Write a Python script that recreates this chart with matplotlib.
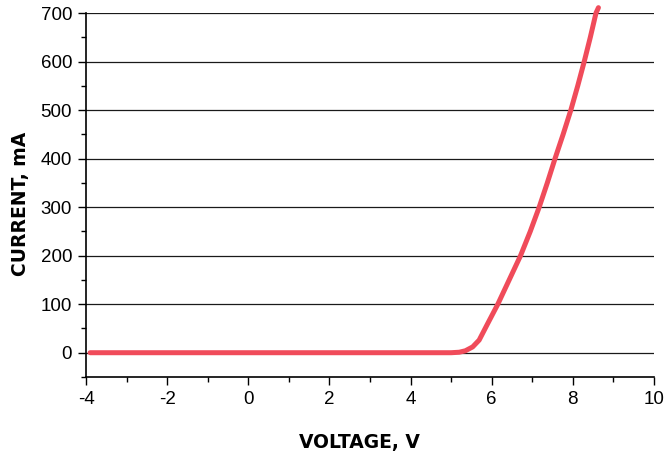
import matplotlib.pyplot as plt
from matplotlib.ticker import MultipleLocator

plt.rcParams['font.family'] = ['Liberation Sans', 'DejaVu Sans']
plt.rcParams['axes.unicode_minus'] = False

# Datos (voltaje en V, corriente en mA)
voltage = [-3.9, -2.0, 0.0, 2.0, 4.0, 5.0, 5.2, 5.35, 5.53, 5.69, 5.9, 6.15,
           6.43, 6.71, 6.95, 7.17, 7.37, 7.56, 7.76, 7.95, 8.12, 8.28, 8.43,
           8.57, 8.63]
current = [0, 0, 0, 0, 0, 0, 1, 4, 12, 26, 60, 100,
           150, 200, 250, 300, 350, 400, 450, 500, 550, 600, 650,
           700, 711]

x_ticks = [-4, -2, 0, 2, 4, 6, 8, 10]
y_ticks = [0, 100, 200, 300, 400, 500, 600, 700]

fig = plt.figure(figsize=(6.69, 4.58), dpi=100)
ax = fig.add_axes([0.1286, 0.1769, 0.849, 0.7947])

# Líneas horizontales de la grilla
for y in y_ticks:
    ax.axhline(y, color='#1a1a1a', linewidth=0.9, zorder=1)

ax.plot(voltage, current, color='#F04B5A', linewidth=3.6,
        solid_capstyle='round', solid_joinstyle='round', clip_on=False, zorder=3)

ax.set_xlim(-4, 10)
ax.set_ylim(-50, 700)
ax.set_xticks(x_ticks)
ax.set_yticks(y_ticks)
ax.xaxis.set_minor_locator(MultipleLocator(1))
ax.yaxis.set_minor_locator(MultipleLocator(50))

ax.spines['top'].set_visible(False)
ax.spines['right'].set_visible(False)
ax.spines['left'].set_linewidth(1.2)
ax.spines['bottom'].set_linewidth(1.2)

ax.tick_params(which='major', length=6, width=1.0, labelsize=13.5, pad=4)
ax.tick_params(which='minor', length=3.5, width=1.0)

# Título y etiquetas
ax.set_xlabel('VOLTAGE, V', fontsize=13.5, fontweight='bold',
              family='DejaVu Sans', va='center')
ax.set_ylabel('CURRENT, mA', fontsize=13.5, fontweight='bold',
              family='DejaVu Sans', va='center')
ax.xaxis.set_label_coords(0.482, -0.181)
ax.yaxis.set_label_coords(-0.116, 0.475)

fig.savefig('out.png', dpi=100)
